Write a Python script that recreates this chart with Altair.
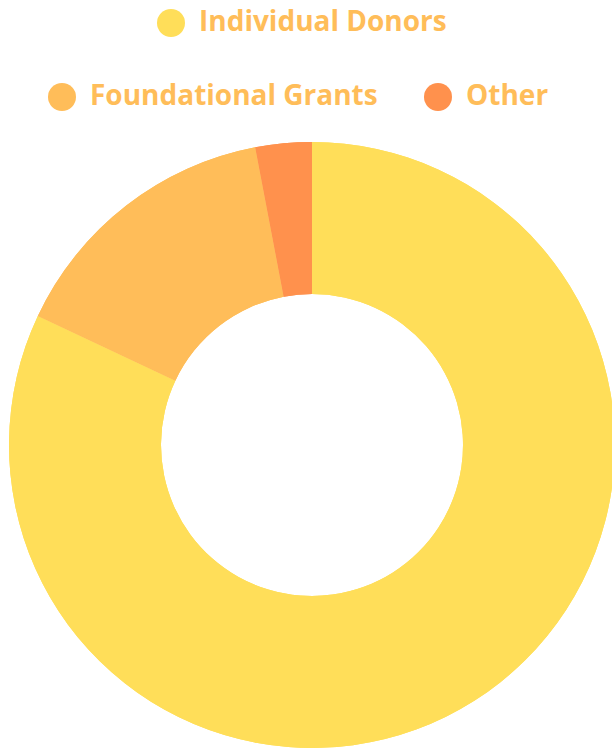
import altair as alt
import pandas as pd

categories = ["Individual Donors", "Foundational Grants", "Other"]
shares = [82, 15, 3]
order_idx = [0, 1, 2]
colors = ["#FFDE59", "#FFBD59", "#FF914D"]

df = pd.DataFrame({"source": categories, "share": shares, "idx": order_idx})

FONT = "Open Sans"
LABEL_COLOR = "#FFBD59"

def legend(values, x, y, direction="vertical"):
    return alt.Legend(
        title=None,
        values=values,
        orient="none",
        legendX=x,
        legendY=y,
        direction=direction,
        symbolType="circle",
        symbolSize=784,
        symbolStrokeWidth=0,
        labelFont=FONT,
        labelFontSize=28,
        labelFontWeight="bold",
        labelColor=LABEL_COLOR,
        labelOffset=14,
        labelLimit=400,
        columnPadding=46,
        padding=0,
    )

base = alt.Chart(df).mark_arc(innerRadius=151, outerRadius=303)

layer1 = base.encode(
    theta=alt.Theta("share:Q", stack=True),
    order=alt.Order("idx:O"),
    color=alt.Color(
        "source:N",
        scale=alt.Scale(domain=categories, range=colors),
        legend=legend(["Individual Donors"], 145, -133),
    ),
)

layer2 = base.encode(
    theta=alt.Theta("share:Q", stack=True),
    order=alt.Order("idx:O"),
    color=alt.Color(
        "source:N",
        scale=alt.Scale(domain=categories, range=colors),
        legend=legend(["Foundational Grants", "Other"], 36, -59, "horizontal"),
    ),
)

chart = (
    alt.layer(layer1, layer2)
    .resolve_scale(color="independent")
    .properties(
        width=600,
        height=606,
        padding={"left": 12, "top": 142, "right": 0, "bottom": 0},
        autosize=alt.AutoSizeParams(type="none"),
        background="white",
    )
    .configure_view(stroke=None)
)

chart.save("out.html", embed_options={"renderer": "svg", "actions": False})
